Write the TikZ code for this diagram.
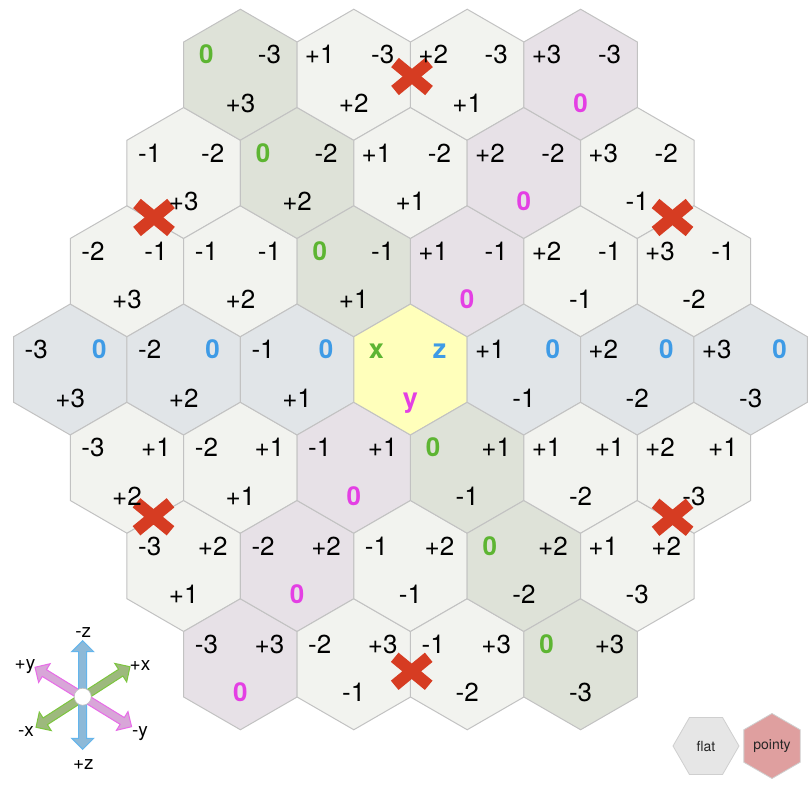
\documentclass[tikz,border=0pt]{standalone}
\usepackage{fontspec}
\setmainfont{TeX Gyre Heros}
\definecolor{hexdef}{HTML}{F2F3EF}
\definecolor{hexx}{HTML}{DEE2D8}
\definecolor{hexz}{HTML}{E1E5E8}
\definecolor{hexy}{HTML}{E7E1E7}
\definecolor{hexc}{HTML}{FFFFBB}
\definecolor{hexline}{HTML}{C2C2C2}
\definecolor{labx}{HTML}{5DB532}
\definecolor{labz}{HTML}{3E9BE6}
\definecolor{laby}{HTML}{E43FE4}
\definecolor{xred}{HTML}{D63C22}
\definecolor{arbfill}{HTML}{8DB9D8}
\definecolor{arbline}{HTML}{64B5EC}
\definecolor{argfill}{HTML}{9DB97D}
\definecolor{argline}{HTML}{7CC63E}
\definecolor{armfill}{HTML}{D8A6D8}
\definecolor{armline}{HTML}{E86BE8}
\definecolor{btnflat}{HTML}{E6E6E6}
\definecolor{btnpointy}{HTML}{DF9F9F}
\definecolor{btnline}{HTML}{CFCFCF}
\newcommand\cubelab[1]{\ifnum#1>0 +#1\else#1\fi}
\newcommand\fatarrow[5]{% center x, center y, angle, half length, style
  \begin{scope}[shift={(#1,#2)}, rotate=#3]
    \path[#5] (-#4,0) -- (-#4+11,11) -- (-#4+11,4) -- (#4-11,4) -- (#4-11,11) -- (#4,0)
      -- (#4-11,-11) -- (#4-11,-4) -- (-#4+11,-4) -- (-#4+11,-11) -- cycle;
  \end{scope}}
\begin{document}
\begin{tikzpicture}[x=1pt,y=-1pt,
  hexcell/.style={draw=hexline, line width=1pt, line join=miter},
  lab/.style={anchor=base, inner sep=0pt, font=\fontsize{26}{26}\selectfont},
  zlab/.style={lab, font=\fontsize{26}{26}\selectfont\bfseries},
  letlab/.style={anchor=base, inner sep=0pt, font=\fontsize{27}{27}\selectfont\bfseries},
  xmark/.style={draw=xred, line width=12pt},
  axlab/.style={inner sep=0pt, font=\fontsize{19}{19}\selectfont},
  btnlab/.style={inner sep=0pt, font=\fontsize{14}{14}\selectfont, text=black!85}]
\useasboundingbox (0,0) rectangle (812,786);
\fill[white] (0,0) rectangle (812,786);
% hex cells
\foreach \q in {-3,...,3}{
 \foreach \r in {-3,...,3}{
  \pgfmathtruncatemacro\sv{0-(\q)-(\r)}
  \pgfmathsetmacro\hcx{410.5+113.4*((\q)+(\r)/2)}
  \pgfmathsetmacro\hcy{369.5+98.25*(\r)}
  \ifnum\sv<-3\relax\else\ifnum\sv>3\relax\else
    \def\hf{hexdef}%
    \ifnum\q=0 \def\hf{hexx}\fi
    \ifnum\r=0 \def\hf{hexz}\fi
    \ifnum\sv=0 \def\hf{hexy}\fi
    \ifnum\q=0 \ifnum\r=0 \def\hf{hexc}\fi\fi
    \path[hexcell, fill=\hf] (\hcx,\hcy) +(30:65.5) -- +(90:65.5) -- +(150:65.5)
      -- +(210:65.5) -- +(270:65.5) -- +(330:65.5) -- cycle;
  \fi\fi
 }}
% red crosses
\foreach \px/\py [count=\i] in {412/76.5, 154/217.5, 672.5/217.5, 153.5/516.8, 672.6/517.3, 411.7/671.3}{
  \coordinate (xm\i) at (\px,\py);
  \draw[xmark] (xm\i) +(-17,-14) -- +(17,14) +(-17,14) -- +(17,-14);
}
% labels
\foreach \q in {-3,...,3}{
 \foreach \r in {-3,...,3}{
  \pgfmathtruncatemacro\sv{0-(\q)-(\r)}
  \pgfmathtruncatemacro\ac{abs(\q)+abs(\r)}
  \pgfmathsetmacro\hcx{410.5+113.4*((\q)+(\r)/2)}
  \pgfmathsetmacro\hcy{369.5+98.25*(\r)}
  \pgfmathsetmacro\ty{\hcy-10.8}
  \pgfmathsetmacro\by{\hcy+37.7}
  \pgfmathsetmacro\lx{\hcx-34}
  \pgfmathsetmacro\rx{\hcx+29}
  \ifnum\sv<-3\relax\else\ifnum\sv>3\relax\else\ifnum\ac=0\relax\else
    \ifnum\q=0 \node[zlab,text=labx] (lx\q\r) at (\lx,\ty) {0};\else\node[lab] (lx\q\r) at (\lx,\ty) {\cubelab{\q}};\fi
    \ifnum\r=0 \node[zlab,text=labz] (lz\q\r) at (\rx,\ty) {0};\else\node[lab] (lz\q\r) at (\rx,\ty) {\cubelab{\r}};\fi
    \ifnum\sv=0 \node[zlab,text=laby] (ly\q\r) at (\hcx,\by) {0};\else\node[lab] (ly\q\r) at (\hcx,\by) {\cubelab{\sv}};\fi
  \fi\fi\fi
 }}
\node[letlab,text=labx] (cxl) at (376.5,358.7) {x};
\node[letlab,text=labz] (czl) at (439.5,358.7) {z};
\node[letlab,text=laby] (cyl) at (410.5,407.2) {y};
% axis legend
\fatarrow{83}{697}{32.8}{55.9}{fill=argfill, draw=argline, line width=1pt, line join=miter}
\fatarrow{83.3}{697}{-31.6}{56.7}{fill=armfill, draw=armline, line width=1pt, line join=miter}
\fatarrow{82.7}{695}{90}{54.3}{fill=arbfill, draw=arbline, line width=1pt, line join=miter}
\node[circle, fill=white, draw=black!25, line width=0.6pt, minimum size=17pt, inner sep=0pt] (axc) at (82.7,696.7) {};
\node[axlab] (mz) at (83.3,632.7) {-z};
\node[axlab] (pz) at (83.3,765) {+z};
\node[axlab] (py) at (25,666.7) {+y};
\node[axlab] (px) at (140,666) {+x};
\node[axlab] (mx) at (26,731.7) {-x};
\node[axlab] (my) at (140,733.3) {-y};
% buttons
\path[fill=btnflat, draw=btnline, line width=0.8pt] (706,746) +(0:33) -- +(60:33) -- +(120:33) -- +(180:33) -- +(240:33) -- +(300:33) -- cycle;
\node[btnlab] (flat) at (706,746) {flat};
\path[fill=btnpointy, draw=btnline, line width=0.8pt] (772,746) +(30:32.5) -- +(90:32.5) -- +(150:32.5) -- +(210:32.5) -- +(270:32.5) -- +(330:32.5) -- cycle;
\node[btnlab] (pointy) at (772,746) {pointy};
\end{tikzpicture}
\end{document}
